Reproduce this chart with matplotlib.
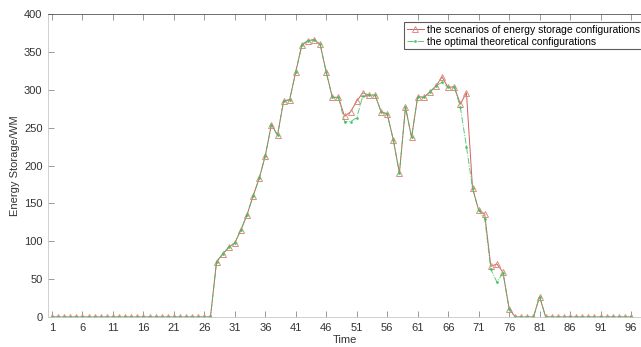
import matplotlib
matplotlib.use("Agg")
import matplotlib.pyplot as plt
import numpy as np

plt.rcParams['font.family'] = ['Liberation Sans', 'DejaVu Sans']

time = list(range(1, 97))

scenario = [0]*27 + [
    73, 83, 92, 98, 115, 135, 160, 183, 213, 254,   # 28-37
    240, 285, 287, 324, 359, 365, 366, 360, 323, 290,  # 38-47
    290, 265, 271, 285, 296, 293, 293, 271, 268, 234,  # 48-57
    190, 277, 237, 291, 290, 297, 305, 317, 303, 304,  # 58-67
    281, 296, 170, 141, 136, 67, 70, 59, 11,           # 68-76
] + [0, 0, 0, 0, 27] + [0]*15

optimal = [0]*27 + [
    73, 83, 92, 98, 115, 135, 160, 183, 213, 254,
    240, 285, 287, 324, 359, 365, 366, 360, 323, 290,
    290, 258, 258, 263, 292, 293, 293, 271, 268, 234,
    190, 277, 237, 291, 290, 297, 305, 310, 303, 304,
    277, 225, 170, 141, 130, 63, 46, 58, 11,
] + [0, 0, 0, 0, 27] + [0]*15

series_labels = ["the scenarios of energy storage configurations",
                 "the optimal theoretical configurations"]
xticks = list(range(1, 97, 5))
yticks = list(range(0, 401, 50))

fig = plt.figure(figsize=(6.41, 3.47), dpi=100)
ax = fig.add_axes([48/641, 1-317/347, 1-48/641, (317-14)/347])

ax.plot(time, scenario, color='#d06060', linestyle='-', linewidth=0.7,
        marker='^', markersize=4, markerfacecolor='none',
        markeredgecolor='#d89080', markeredgewidth=0.7, label=series_labels[0])
ax.plot(time, optimal, color='#40c060', linestyle='-.', linewidth=0.7,
        marker='.', markersize=2, label=series_labels[1], alpha=0.85)

ax.set_xlim(1 - 4/6.095, 96 + 10/6.095)
ax.set_ylim(0, 400)
ax.set_xticks(xticks)
ax.set_yticks(yticks)
ax.tick_params(direction='in', length=4, width=0.6, labelsize=8, pad=4,
               colors='#888888', labelcolor='#333333', top=True, right=False)
for s in ['left', 'bottom']:
    ax.spines[s].set_color('#c8c8c8')
    ax.spines[s].set_linewidth(0.6)
ax.spines['top'].set_color('#555555')
ax.spines['top'].set_linewidth(0.6)
ax.spines['right'].set_visible(False)

ax.set_xlabel('Time', fontsize=8, color='#333333', labelpad=2)
ax.set_ylabel('Energy Storage/WM', fontsize=8, color='#333333', labelpad=3)

leg = ax.legend(loc='upper left', bbox_to_anchor=(0.6003, 0.9736), fontsize=7.5,
                frameon=True, fancybox=False, borderpad=0.25, labelspacing=0.2,
                handlelength=1.7, handletextpad=0.3, borderaxespad=0.0)
leg.get_frame().set_edgecolor('#333333')
leg.get_frame().set_linewidth(0.8)
leg.set_clip_on(False)

fig.savefig('out.png', dpi=100)
